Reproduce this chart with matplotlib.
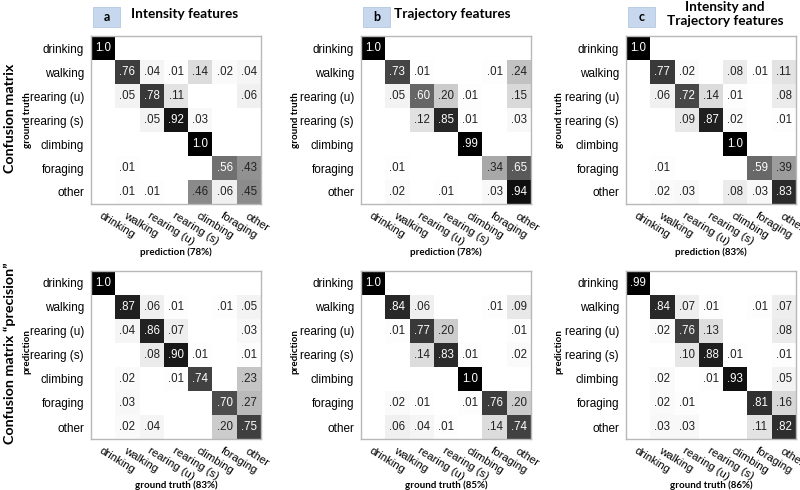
import matplotlib
matplotlib.use("Agg")
import matplotlib.pyplot as plt
import numpy as np
from matplotlib.patches import Rectangle

classes = ['drinking', 'walking', 'rearing (u)', 'rearing (s)', 'climbing', 'foraging', 'other']

# recall matrices (rows: ground truth, cols: prediction)
recall_int = [
    [1.0, 0, 0, 0, 0, 0, 0],
    [0, .76, .04, .01, .14, .02, .04],
    [0, .05, .78, .11, 0, 0, .06],
    [0, 0, .05, .92, .03, 0, 0],
    [0, 0, 0, 0, 1.0, 0, 0],
    [0, .01, 0, 0, 0, .56, .43],
    [0, .01, .01, 0, .46, .06, .45],
]
recall_traj = [
    [1.0, 0, 0, 0, 0, 0, 0],
    [0, .73, .01, 0, 0, .01, .24],
    [0, .05, .60, .20, .01, 0, .15],
    [0, 0, .12, .85, .01, 0, .03],
    [0, 0, 0, 0, .99, 0, 0],
    [0, .01, 0, 0, 0, .34, .65],
    [0, .02, 0, .01, 0, .03, .94],
]
recall_both = [
    [1.0, 0, 0, 0, 0, 0, 0],
    [0, .77, .02, 0, .08, .01, .11],
    [0, .06, .72, .14, .01, 0, .08],
    [0, 0, .09, .87, .02, 0, .01],
    [0, 0, 0, 0, 1.0, 0, 0],
    [0, .01, 0, 0, 0, .59, .39],
    [0, .02, .03, 0, .08, .03, .83],
]

# precision matrices (rows: prediction, cols: ground truth)
prec_int = [
    [1.0, 0, 0, 0, 0, 0, 0],
    [0, .87, .06, .01, 0, .01, .05],
    [0, .04, .86, .07, 0, 0, .03],
    [0, 0, .08, .90, .01, 0, .01],
    [0, .02, 0, .01, .74, 0, .23],
    [0, .03, 0, 0, 0, .70, .27],
    [0, .02, .04, 0, 0, .20, .75],
]
prec_traj = [
    [1.0, 0, 0, 0, 0, 0, 0],
    [0, .84, .06, 0, 0, .01, .09],
    [0, .01, .77, .20, 0, 0, .01],
    [0, 0, .14, .83, .01, 0, .02],
    [0, 0, 0, 0, 1.0, 0, 0],
    [0, .02, .01, 0, .01, .76, .20],
    [0, .06, .04, .01, 0, .14, .74],
]
prec_both = [
    [.99, 0, 0, 0, 0, 0, 0],
    [0, .84, .07, .01, 0, .01, .07],
    [0, .02, .76, .13, 0, 0, .08],
    [0, 0, .10, .88, .01, 0, .01],
    [0, .02, 0, .01, .93, 0, .05],
    [0, .02, .01, 0, 0, .81, .16],
    [0, .03, .03, 0, 0, .11, .82],
]

top_acc = ['78%', '78%', '83%']
bottom_acc = ['83%', '85%', '86%']
panel_letters = ['a', 'b', 'c']
panel_titles = ['Intensity features', 'Trajectory features', 'Intensity and\nTrajectory features']

W, H = 800, 490
fig = plt.figure(figsize=(8, 4.9), dpi=100)
tick_font = 'Liberation Sans'
head_font = 'Lato'


def fx(x):
    return x / W


def fy(y):
    return 1 - y / H


def draw_matrix(ax, mat):
    m = np.array(mat, dtype=float)
    shown = np.ma.masked_equal(m, 0)
    ax.imshow(shown, cmap='gray_r', vmin=0, vmax=1, aspect='auto', interpolation='nearest')
    for i in range(m.shape[0]):
        for j in range(m.shape[1]):
            v = m[i, j]
            if v == 0:
                continue
            s = '1.0' if v >= 1 else ('%.2f' % v)[1:]
            ax.text(j, i, s, ha='center', va='center', fontsize=8.3, family=tick_font,
                    color='white' if v > 0.5 else '#222222')
    ax.set_xticks(range(len(classes)))
    ax.set_yticks(range(len(classes)))
    ax.set_xticklabels(classes, rotation=-32, ha='left', rotation_mode='anchor',
                       fontsize=8.2, family=tick_font)
    ax.set_yticklabels(classes, fontsize=8.5, family=tick_font)
    ax.tick_params(length=0, pad=5)
    for sp in ax.spines.values():
        sp.set_color('#b8b8b8')
        sp.set_linewidth(1)


lefts = [91, 361, 626]
top_mats = [recall_int, recall_traj, recall_both]
bot_mats = [prec_int, prec_traj, prec_both]
cw = 170

for k in range(3):
    ax = fig.add_axes([fx(lefts[k]), fy(204), cw / W, 168 / H])
    draw_matrix(ax, top_mats[k])
    ax2 = fig.add_axes([fx(lefts[k]), fy(439), cw / W, 168 / H])
    draw_matrix(ax2, bot_mats[k])

    cx = lefts[k] + cw / 2
    fig.text(fx(cx), fy(252), 'prediction (%s)' % top_acc[k], ha='center', va='center',
             fontsize=7, fontweight='bold', family=head_font)
    fig.text(fx(cx), fy(485), 'ground truth (%s)' % bottom_acc[k], ha='center', va='center',
             fontsize=7, fontweight='bold', family=head_font)

    # panel letter box + title
    bx = lefts[k] + 2
    fig.patches.append(Rectangle((fx(bx), fy(27)), 27 / W, 20 / H, transform=fig.transFigure,
                                 facecolor='#c6d7ee', edgecolor='#b4c7e2', lw=0.6))
    fig.text(fx(bx + 13.5), fy(17), panel_letters[k], ha='center', va='center',
             fontsize=9, fontweight='bold', family=head_font)
    title_x = [185, 452, 725][k]
    fig.text(fx(title_x), fy(14), panel_titles[k], ha='center', va='center',
             fontsize=9.8, fontweight='bold', family=head_font, linespacing=1.15)

# y axis labels of the individual matrices
ylab_x = [27, 295, 559]
for k in range(3):
    fig.text(fx(ylab_x[k]), fy(120), 'ground truth', rotation=90, ha='center', va='center',
             fontsize=7, fontweight='bold', family=head_font)
    fig.text(fx(ylab_x[k]), fy(352), 'prediction', rotation=90, ha='center', va='center',
             fontsize=7, fontweight='bold', family=head_font)

fig.text(fx(10), fy(118), 'Confusion matrix', rotation=90, ha='center', va='center',
         fontsize=10.3, fontweight='bold', family=head_font)
fig.text(fx(10), fy(353), 'Confusion matrix \u201cprecision\u201d', rotation=90, ha='center',
         va='center', fontsize=10.3, fontweight='bold', family=head_font)

fig.savefig('out.png', dpi=100)
